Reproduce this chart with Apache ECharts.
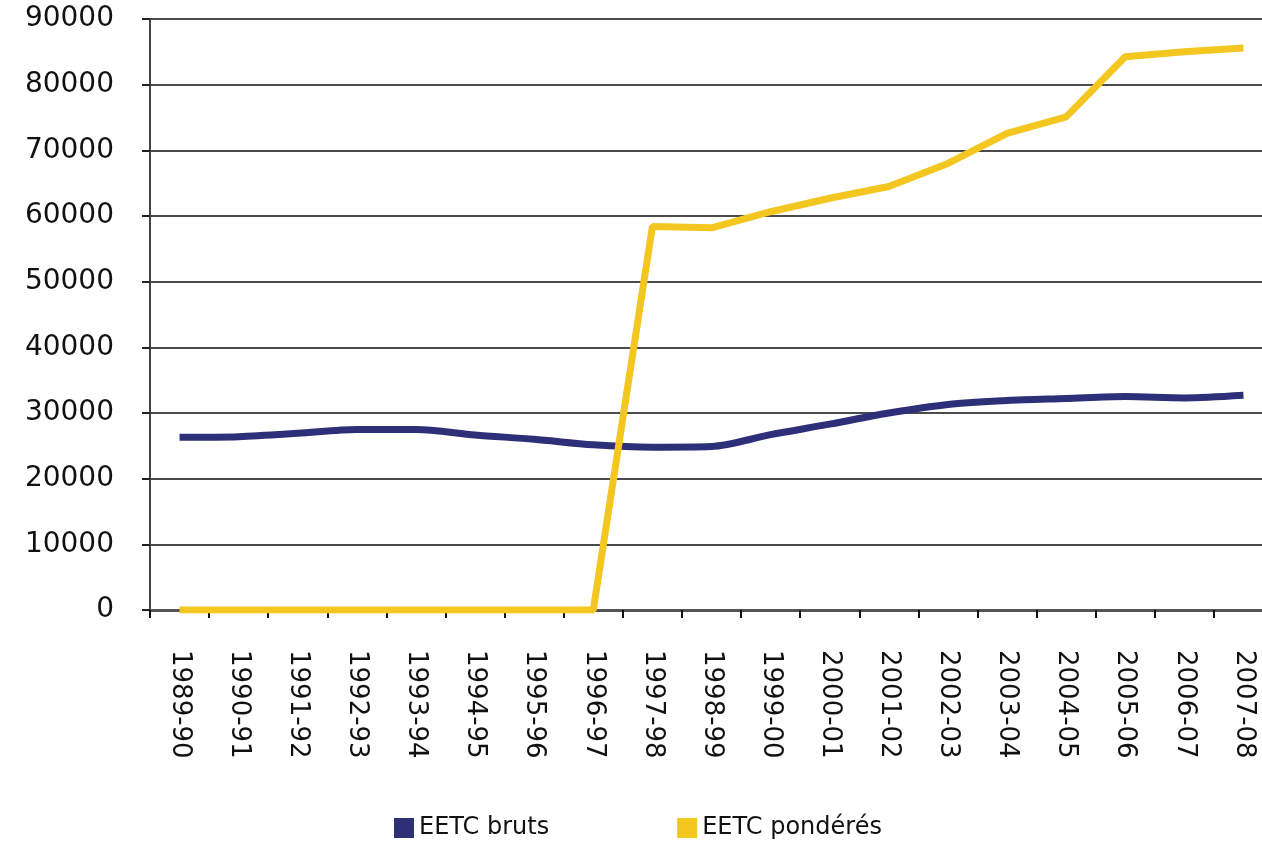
<!DOCTYPE html>
<html>
<head>
<meta charset="utf-8">
<script src="https://cdn.jsdelivr.net/npm/echarts@6/dist/echarts.min.js"></script>
<style>
html,body{margin:0;padding:0;background:#fff;overflow:hidden;width:1262px;height:843px;}
#chart{width:1276px;height:843px;}
</style>
</head>
<body>
<div id="chart"></div>
<script>
var categories = ["1989-90","1990-91","1991-92","1992-93","1993-94","1994-95","1995-96","1996-97","1997-98","1998-99","1999-00","2000-01","2001-02","2002-03","2003-04","2004-05","2005-06","2006-07","2007-08"];
var eetcBruts = [26300,26400,26900,27500,27500,26650,26000,25150,24800,24900,26700,28300,30000,31300,31900,32200,32500,32300,32700];
var eetcPonderes = [0,0,0,0,0,0,0,0,58400,58200,60650,62700,64500,68000,72600,75100,84250,85000,85600];
var yTicks = {min:0, max:90000, interval:10000};

var chart = echarts.init(document.getElementById('chart'));
chart.setOption({
  animation:false,
  backgroundColor:'#ffffff',
  grid:{left:150, top:19, right:3, bottom:233},
  legend:{
    top:811, left:389, icon:'rect', itemWidth:20, itemHeight:20, itemGap:128,
    textStyle:{fontFamily:'DejaVu Sans', fontSize:24, color:'#111'},
    data:['EETC bruts','EETC pondérés']
  },
  xAxis:{
    type:'category', data:categories, boundaryGap:true,
    axisLine:{lineStyle:{color:'#555', width:3}},
    axisTick:{show:true, length:8, lineStyle:{color:'#111', width:2}},
    axisLabel:{rotate:-90, margin:40, fontFamily:'DejaVu Sans', fontSize:26, color:'#111', interval:0},
    splitLine:{show:false}
  },
  yAxis:{
    type:'value', min:yTicks.min, max:yTicks.max, interval:yTicks.interval,
    axisLine:{show:true, lineStyle:{color:'#444', width:2}},
    axisTick:{show:true, length:8, lineStyle:{color:'#222', width:2}},
    axisLabel:{margin:36, fontFamily:'DejaVu Sans', fontSize:28, color:'#111',
      formatter:function(v){return String(v);}},
    splitLine:{show:true, lineStyle:{color:'#4a4a4a', width:2}}
  },
  series:[
    {name:'EETC bruts', type:'line', data:eetcBruts, symbol:'none', smooth:0.3,
     itemStyle:{color:'#2D3079'}, lineStyle:{color:'#2D3079', width:7}},
    {name:'EETC pondérés', type:'line', data:eetcPonderes, symbol:'none',
     itemStyle:{color:'#F4C620'}, lineStyle:{color:'#F4C620', width:7}}
  ]
});
</script>
</body>
</html>
